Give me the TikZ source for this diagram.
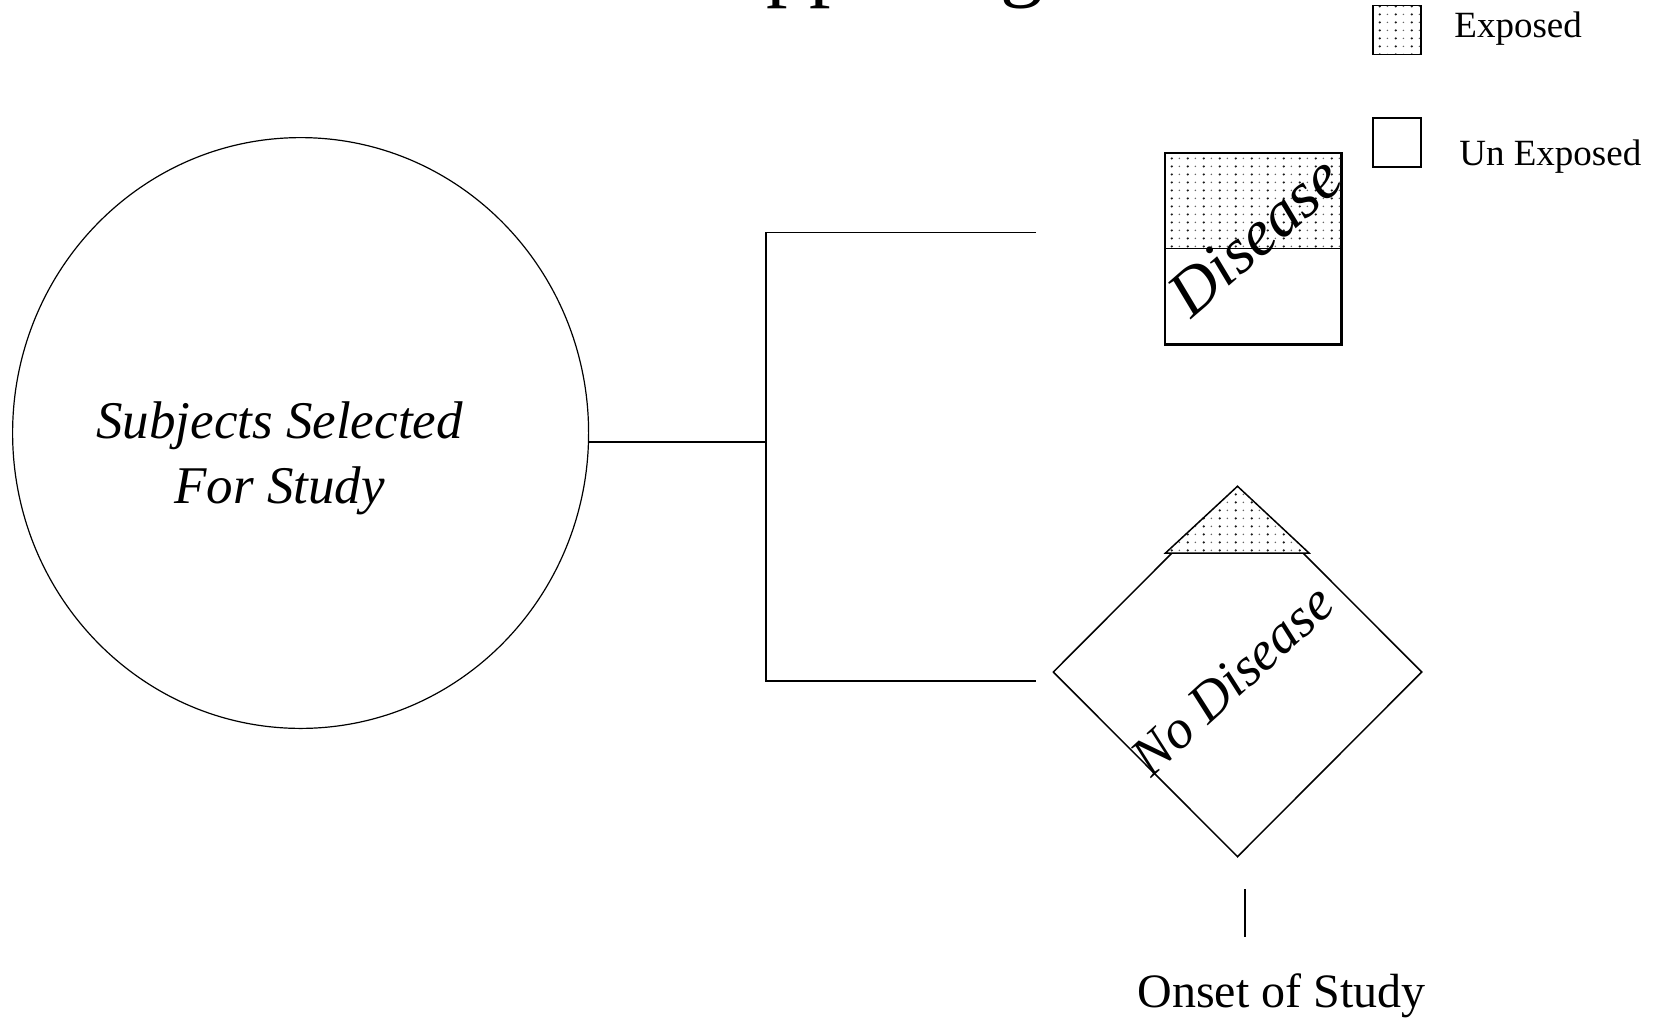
\documentclass[tikz,border=0pt]{standalone}
\usepackage{fontspec}
\setmainfont{Liberation Serif}
\usetikzlibrary{shapes.geometric,patterns.meta}

% fine stippled fill used for the "exposed" parts
\tikzdeclarepattern{
  name=stipple,
  type=colored,
  bottom left={(0pt,0pt)},
  top right={(8pt,4pt)},
  tile size={(8pt,4pt)},
  code={
    \fill[black!90] (2pt,2pt) circle (0.65pt);
    \fill[black!60] (6pt,2pt) circle (0.45pt);
  }
}

\tikzset{
  wire/.style={line width=0.85pt},
  bigcirc/.style={ellipse, draw, line width=0.6pt, inner sep=0pt,
    minimum width=288pt, minimum height=295.4pt},
  casebox/.style={rectangle, draw, line width=0.75pt, inner sep=0pt,
    minimum width=88pt, minimum height=95.5pt},
  ctrlshape/.style={diamond, aspect=1, draw, line width=0.75pt, inner sep=0pt,
    minimum width=184.5pt, minimum height=185pt},
  keybox/.style={rectangle, draw, line width=0.75pt, inner sep=0pt,
    minimum width=24pt, minimum height=24.5pt},
  keytext/.style={anchor=base west, inner sep=0pt, font=\fontsize{18.5}{22}\selectfont},
  subjtext/.style={anchor=base, inner sep=0pt, font=\fontsize{26.5}{32}\selectfont\itshape},
}

\begin{document}
\begin{tikzpicture}[x=0.5pt, y=-0.5pt]
\useasboundingbox (0,0) rectangle (1660,1018);
\clip (0,0) rectangle (1660,1018);

% heading, running off the top edge
\node[anchor=base west, inner sep=0pt, font=\fontsize{43}{50}\selectfont] (title) at (666,-9.4) {Happening};

% study population
\node[bigcirc] (subj) at (300.6,433) {};
\node[subjtext] (subj1) at (279.5,438) {Subjects Selected};
\node[subjtext] (subj2) at (279.5,503) {For Study};

% branching connector
\coordinate (fork) at (766,442);
\coordinate (forktop) at (766,232.5);
\coordinate (forkbot) at (766,681);
\coordinate (topend) at (1036,232.5);
\coordinate (botend) at (1036,681);
\draw[wire] (subj.east |- fork) -- (fork);
\draw[wire] (topend) -- (forktop) -- (forkbot) -- (botend);

% cases: upper half exposed
\node[casebox] (dis) at (1253,248.5) {};
\fill[pattern=stipple] (dis.north west) rectangle (dis.east);
\draw[line width=0.75pt] (dis.west) -- (dis.east);
\draw[line width=0.75pt] (dis.north west) rectangle (dis.south east);
\node[rotate=41, inner sep=0pt, font=\fontsize{32.5}{38}\selectfont\itshape] (distxt) at (1255,236) {Disease};

% non-cases: exposed cap on top
\node[ctrlshape] (nodis) at (1237.5,672) {};
\coordinate (capL) at (1165.5,553);
\coordinate (capR) at (1309,553);
\draw[line width=0.75pt, preaction={fill=white}, pattern=stipple]
  (nodis.north) -- (capR) -- (capL) -- cycle;
\node[rotate=42.5, inner sep=0pt, font=\fontsize{27.5}{33}\selectfont\itshape] (nodistxt) at (1232,680) {No Disease};

% time marker
\coordinate (tickA) at (1245,889);
\coordinate (tickB) at (1245,937);
\draw[wire] (tickA) -- (tickB);
\node[anchor=base west, inner sep=0pt, font=\fontsize{24}{29}\selectfont] (onset) at (1137,1007) {Onset of Study};

% key
\node[keybox, pattern=stipple] (keyexp) at (1397,30) {};
\node[keytext] (keyexptxt) at (1454,37) {Exposed};
\node[keybox] (keyun) at (1397,142.5) {};
\node[keytext] (keyuntxt) at (1459,165) {Un Exposed};
\end{tikzpicture}
\end{document}
